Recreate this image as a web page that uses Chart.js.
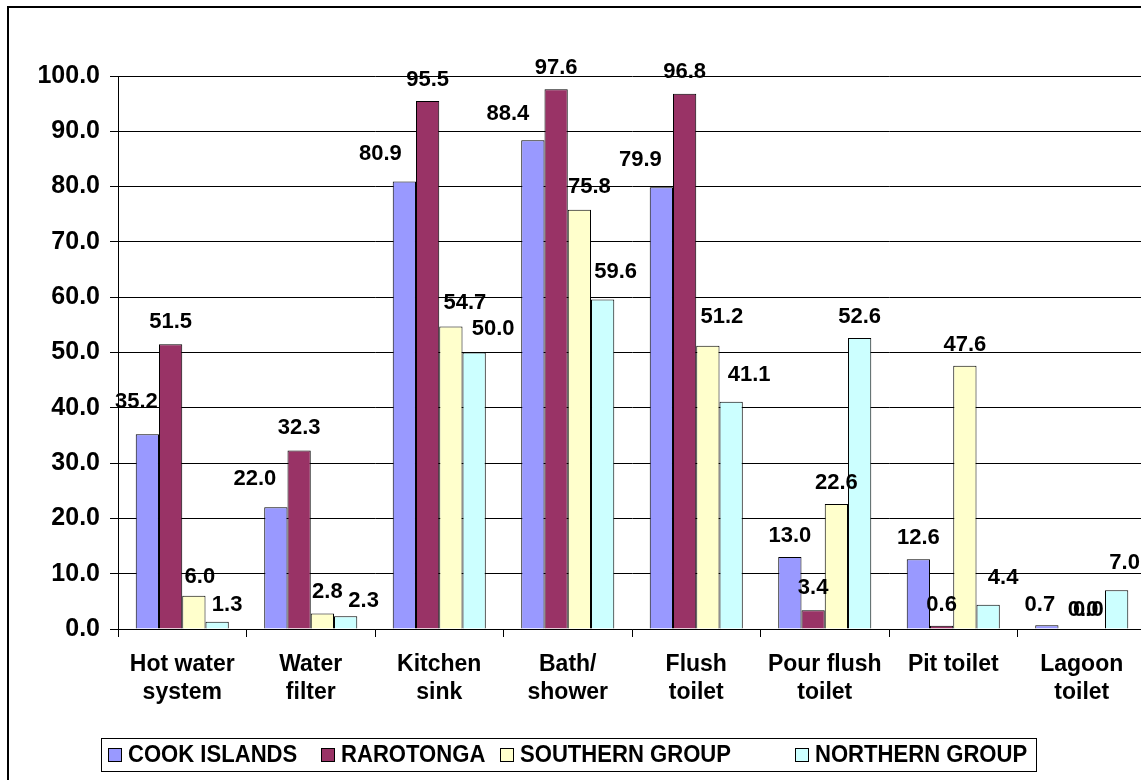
<!DOCTYPE html>
<html>
<head>
<meta charset="utf-8">
<script src="https://cdn.jsdelivr.net/npm/chart.js@4.4.0/dist/chart.umd.min.js"></script>
<style>
  html, body { margin: 0; padding: 0; background: #fff; overflow: hidden; }
  #wrap { width: 1150px; height: 780px; }
</style>
</head>
<body>
<div id="wrap"><canvas id="chart"></canvas></div>
<script>
const categories = [
  ["Hot water", "system"], ["Water", "filter"], ["Kitchen", "sink"], ["Bath/", "shower"],
  ["Flush", "toilet"], ["Pour flush", "toilet"], ["Pit toilet"], ["Lagoon", "toilet"]
];
const seriesNames = ["COOK ISLANDS", "RAROTONGA", "SOUTHERN GROUP", "NORTHERN GROUP"];
const cookIslands   = [35.2, 22.0, 80.9, 88.4, 79.9, 13.0, 12.6, 0.7];
const rarotonga     = [51.5, 32.3, 95.5, 97.6, 96.8, 3.4, 0.6, 0.0];
const southernGroup = [6.0, 2.8, 54.7, 75.8, 51.2, 22.6, 47.6, 0.0];
const northernGroup = [1.3, 2.3, 50.0, 59.6, 41.1, 52.6, 4.4, 7.0];
const yMin = 0, yMax = 100, yStep = 10;

const colors = ["#9999FF", "#993366", "#FFFFCC", "#CCFFFF"];

// hand-placed value labels in the original: [dx, dy] from the bar top
const labelShift = [
  [[-11, 32], [-21, 28], [-24, 28], [-25, 26], [-21, 27], [0, 21], [0, 21], [-7, 20]],
  [[0, 22], [0, 22], [0, 21], [0, 21], [0, 22], [0, 22], [0, 21], [13, 19]],
  [[6, 19], [5, 22], [14, 24], [10, 23], [14, 29], [0, 21], [0, 21], [-5, 19]],
  [[10, 17], [18, 15], [19, 24], [13, 27], [18, 27], [0, 21], [15, 27], [8, 27]]
];

const FONT = "'Liberation Sans', Arial, sans-serif";
Chart.defaults.font.family = FONT;
Chart.defaults.color = "#000";

const frame = {
  id: "frame",
  beforeDraw(chart) {
    const ctx = chart.ctx;
    ctx.save();
    ctx.fillStyle = "#fff";
    ctx.fillRect(0, 0, chart.width, chart.height);
    ctx.strokeStyle = "#000";
    ctx.lineWidth = 2;
    ctx.strokeRect(8, 7, 3000, 3000);
    ctx.restore();
  }
};

const valueLabels = {
  id: "valueLabels",
  afterDatasetsDraw(chart) {
    const ctx = chart.ctx;
    ctx.save();
    ctx.font = "bold 22px " + FONT;
    ctx.fillStyle = "#000";
    ctx.textAlign = "center";
    ctx.textBaseline = "middle";
    chart.data.datasets.forEach((ds, i) => {
      chart.getDatasetMeta(i).data.forEach((bar, j) => {
        const s = labelShift[i][j];
        ctx.fillText(ds.data[j].toFixed(1), bar.x + s[0], bar.y - s[1]);
      });
    });
    ctx.restore();
  }
};

// legend in a bordered box, laid out like the original
const boxLegend = {
  id: "boxLegend",
  afterDraw(chart) {
    const ctx = chart.ctx;
    const itemX = [108, 321, 500, 795];
    const cy = 755;
    ctx.save();
    ctx.strokeStyle = "#000";
    ctx.lineWidth = 1;
    ctx.strokeRect(101.5, 738.5, 935, 33);
    ctx.font = "bold 23px " + FONT;
    ctx.textBaseline = "middle";
    ctx.textAlign = "left";
    chart.data.datasets.forEach((ds, i) => {
      ctx.fillStyle = ds.backgroundColor;
      ctx.fillRect(itemX[i] + 0.5, cy - 6.5, 13, 13);
      ctx.strokeRect(itemX[i] + 0.5, cy - 6.5, 13, 13);
      ctx.fillStyle = "#000";
      const w = ctx.measureText(ds.label).width * 0.96;
      ctx.fillText(ds.label, itemX[i] + 20, cy + 1, w);
    });
    ctx.restore();
  }
};

const seriesValues = [cookIslands, rarotonga, southernGroup, northernGroup];

new Chart(document.getElementById("chart"), {
  type: "bar",
  data: {
    labels: categories,
    datasets: seriesNames.map((name, i) => ({
      label: name,
      data: seriesValues[i],
      backgroundColor: colors[i],
      borderColor: "#000",
      borderWidth: 1,
      categoryPercentage: 0.724,
      barPercentage: 1
    }))
  },
  options: {
    responsive: true,
    maintainAspectRatio: false,
    devicePixelRatio: 1,
    animation: false,
    layout: { padding: { left: 0, right: 4, top: 76, bottom: 0 } },
    plugins: {
      legend: { display: false },
      tooltip: { enabled: false }
    },
    scales: {
      x: {
        grid: { offset: true, drawOnChartArea: false, drawTicks: true, tickLength: 8, color: "#000" },
        border: { color: "#000", width: 1 },
        ticks: {
          color: "#000",
          font: { size: 23, weight: "bold", lineHeight: 1.22 },
          padding: 14,
          maxRotation: 0,
          autoSkip: false
        },
        afterFit(scale) { scale.height = 151; }
      },
      y: {
        min: yMin,
        max: yMax,
        ticks: {
          stepSize: yStep,
          color: "#000",
          font: { size: 25, weight: "bold" },
          padding: 10,
          callback: v => v.toFixed(1)
        },
        grid: { color: "#000", tickLength: 8 },
        border: { color: "#000", width: 1 },
        afterFit(scale) { scale.width = 118; }
      }
    }
  },
  plugins: [frame, valueLabels, boxLegend]
});
</script>
</body>
</html>
